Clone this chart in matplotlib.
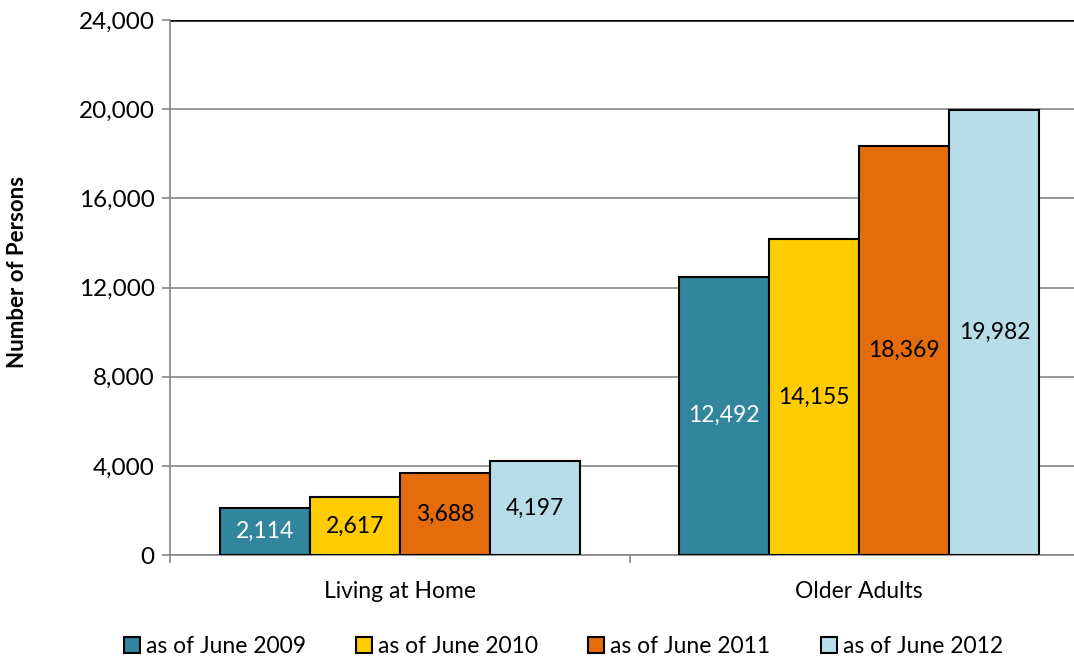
import matplotlib.pyplot as plt
import numpy as np

plt.rcParams['font.family'] = ['Lato', 'DejaVu Sans']

categories = ['Living at Home', 'Older Adults']
series = ['as of June 2009', 'as of June 2010', 'as of June 2011', 'as of June 2012']
values = [
  [2114, 12492],
  [2617, 14155],
  [3688, 18369],
  [4197, 19982],
]
colors = ['#31859C', '#FFCC00', '#E46C0A', '#B7DEE8']
label_colors = ['white', 'black', 'black', 'black']
yticks = [0, 4000, 8000, 12000, 16000, 20000, 24000]

fig = plt.figure(figsize=(10.74, 6.58), dpi=100)
ax = fig.add_axes([0.1583, 0.1565, 0.8557, 0.8131])

x = np.arange(len(categories))
width = 0.196
for i, (name, vals) in enumerate(zip(series, values)):
  pos = x + (i - 1.5) * width
  bars = ax.bar(pos, vals, width, color=colors[i], edgecolor='black',
                linewidth=1.5, label=name, zorder=3)
  for b, v in zip(bars, vals):
    ax.text(b.get_x() + b.get_width() / 2, v / 2, f'{v:,}',
            ha='center', va='center', fontsize=16.5, color=label_colors[i], zorder=4)

ax.set_xlim(-0.5, 1.5)
ax.set_ylim(0, 24000)
ax.set_yticks(yticks)
ax.set_yticklabels([f'{t:,}' for t in yticks], fontsize=17.5)
ax.set_xticks(x)
ax.set_xticklabels(categories, fontsize=16.5)
ax.set_xticks([-0.5, 0.5, 1.5], minor=True)
ax.tick_params(axis='x', which='major', length=0, pad=19)
ax.tick_params(axis='x', which='minor', length=6, color='#868686', width=1.2)
ax.tick_params(axis='y', length=6, color='#868686', width=1.2, pad=5)

ax.grid(axis='y', color='#868686', linewidth=1.2, zorder=0)
ax.axhline(24000, color='black', linewidth=1.8, zorder=2)
for s in ['top', 'right']:
  ax.spines[s].set_visible(False)
ax.spines['left'].set_color('#868686')
ax.spines['left'].set_linewidth(1.2)
ax.spines['bottom'].set_color('#868686')
ax.spines['bottom'].set_linewidth(1.2)

ax.set_ylabel('Number of Persons', fontsize=16, fontweight='bold', va='center')
ax.yaxis.set_label_coords(-0.1655, 0.53)

ax.legend(loc='lower center', bbox_to_anchor=(0.428, -0.23), ncol=4, frameon=False,
          fontsize=16.5, handlelength=0.7, handleheight=0.7, handletextpad=0.25,
          columnspacing=2.2)

plt.savefig('out.png', dpi=100)
plt.close()
